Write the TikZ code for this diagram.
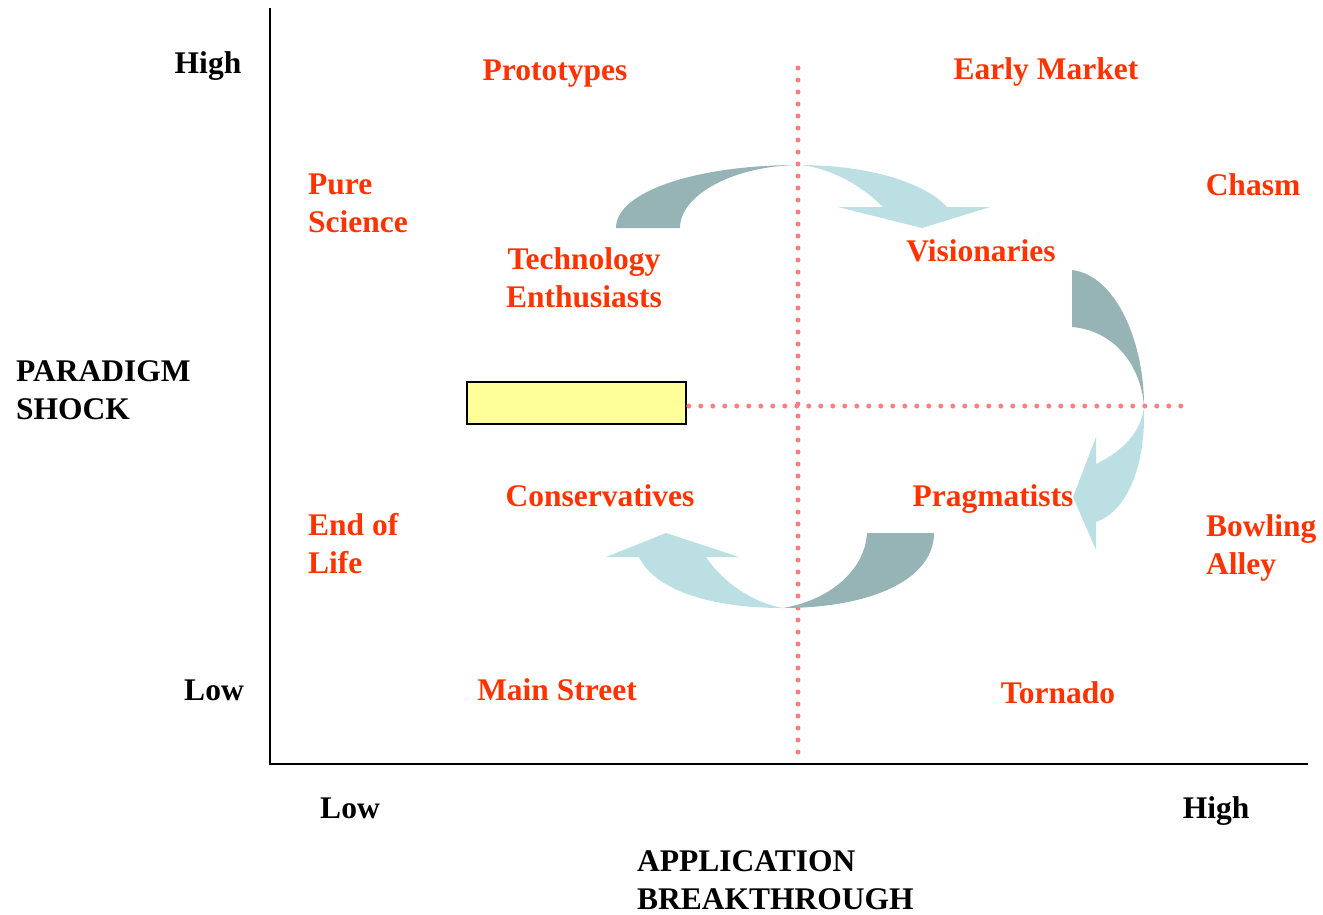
\documentclass[tikz,border=0pt]{standalone}
\usepackage{fontspec}
\setmainfont{Liberation Serif}
\definecolor{labelred}{HTML}{FF3300}
\definecolor{dotpink}{HTML}{FF7C80}
\definecolor{arrowdark}{HTML}{96B4B6}
\definecolor{arrowlight}{HTML}{BBDFE3}
\definecolor{boxyellow}{HTML}{FFFF99}

\begin{document}
\begin{tikzpicture}[x=1pt,y=-1pt,
	lbl/.style={font=\bfseries\fontsize{31.5}{38}\selectfont,inner sep=0pt},
	stage/.style={lbl,text=labelred},
	divider/.style={dotpink,line width=5pt,line cap=round,dash pattern=on 0pt off 12pt}]
	\useasboundingbox (0,0) rectangle (1323,914);
	% draw axes
	\coordinate (top) at (270,8);
	\coordinate (origin) at (270,764);
	\coordinate (right) at (1308,764);
	\draw[line width=2pt] (top) -- (origin) -- (right);
	% axis labels
	\node[lbl,anchor=base] (highy) at (208,73) {High};
	\node[lbl,anchor=base] (lowy) at (214,700) {Low};
	\node[lbl,anchor=base west,align=left] (paradigm) at (16,419) {PARADIGM\\SHOCK};
	\node[lbl,anchor=base] (lowx) at (350,818) {Low};
	\node[lbl,anchor=base] (highx) at (1216,818) {High};
	\node[lbl,anchor=base west,align=left] (application) at (637,909) {APPLICATION\\BREAKTHROUGH};
	% draw dividers
	\node[draw,fill=boxyellow,line width=1.5pt,minimum width=219pt,minimum height=42pt] (box) at (576.5,403) {};
	\coordinate (vtop) at (798,68);
	\coordinate (vbot) at (798,758);
	\coordinate (hend) at (1182,406);
	\draw[divider] (vtop) -- (vbot);
	\draw[divider,shorten <=2pt] (box.east |- hend) -- (hend);
	% draw cycle arrows
	\fill[arrowdark] (616,228) .. controls (616,191) and (698,165) .. (798,165)
		.. controls (733,166) and (680,195) .. (680,228) -- cycle;
	\fill[arrowlight] (798,165) .. controls (870,165) and (925,183) .. (947,207)
		-- (990,207) -- (922,228) -- (838,207) -- (883,207)
		.. controls (862,186) and (830,167) .. (798,165) -- cycle;
	\fill[arrowdark] (1072,270) .. controls (1115,275) and (1144,340) .. (1144,406)
		.. controls (1140,360) and (1110,330) .. (1072,327) -- cycle;
	\fill[arrowlight] (1144,406) .. controls (1146,470) and (1125,512) .. (1096,522)
		-- (1096,550) -- (1073,497) -- (1096,437) -- (1096,464)
		.. controls (1125,450) and (1142,430) .. (1144,406) -- cycle;
	\fill[arrowdark] (934,533) .. controls (934,580) and (870,608) .. (783,608)
		.. controls (830,600) and (865,570) .. (867,533) -- cycle;
	\fill[arrowlight] (783,608) .. controls (710,608) and (655,590) .. (639,557)
		-- (606,557) -- (666,533) -- (739,557) -- (706,557)
		.. controls (725,585) and (755,603) .. (783,608) -- cycle;
	% stage labels
	\node[stage,anchor=base] (prototypes) at (555,80) {Prototypes};
	\node[stage,anchor=base] (earlymarket) at (1046,79) {Early Market};
	\node[stage,anchor=base west,align=left] (purescience) at (308,232) {Pure\\Science};
	\node[stage,anchor=base] (chasm) at (1253,195) {Chasm};
	\node[stage,anchor=base,align=center] (enthusiasts) at (584,307) {Technology\\Enthusiasts};
	\node[stage,anchor=base] (visionaries) at (981,261) {Visionaries};
	\node[stage,anchor=base] (conservatives) at (600,506) {Conservatives};
	\node[stage,anchor=base] (pragmatists) at (993,506) {Pragmatists};
	\node[stage,anchor=base west,align=left] (endoflife) at (308,573) {End of\\Life};
	\node[stage,anchor=base west,align=left] (bowling) at (1206,574) {Bowling\\Alley};
	\node[stage,anchor=base] (mainstreet) at (557,700) {Main Street};
	\node[stage,anchor=base] (tornado) at (1058,703) {Tornado};
\end{tikzpicture}
\end{document}
